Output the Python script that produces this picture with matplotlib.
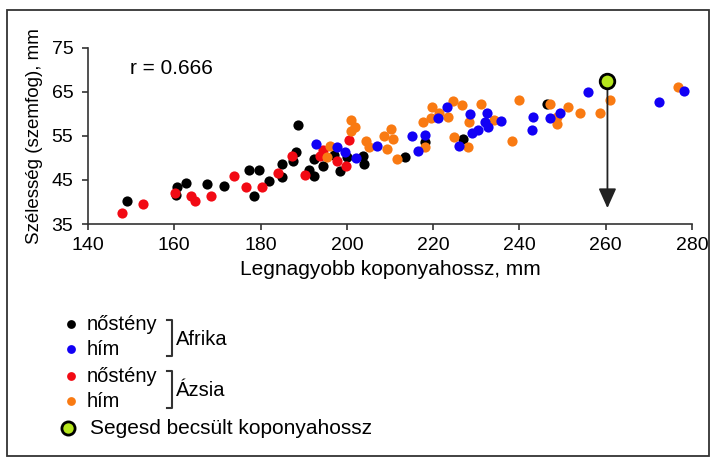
import matplotlib
matplotlib.use('Agg')
import matplotlib.pyplot as plt
from matplotlib.patches import Rectangle

plt.rcParams['font.family'] = ['Liberation Sans', 'DejaVu Sans']

# Afrika, nostény (black)
af_f_x = [149.1, 160.7, 160.4, 162.7, 167.5, 171.5, 177.4, 179.7, 178.5, 182.0,
          184.9, 184.9, 187.6, 188.2, 188.7, 191.3, 192.4, 192.4, 194.5, 197.0,
          198.3, 200.0, 203.8, 204.0, 213.5, 218.1, 226.9, 246.5]
af_f_y = [40.3, 43.3, 41.6, 44.2, 44.0, 43.7, 47.2, 47.2, 41.3, 44.8,
          48.6, 45.7, 49.4, 51.3, 57.5, 47.2, 45.9, 49.8, 48.2, 50.6,
          47.0, 50.3, 50.4, 48.6, 50.3, 53.6, 54.2, 62.3]
# Afrika, hím (blue)
af_m_x = [192.9, 197.7, 199.5, 202.1, 207.1, 215.0, 218.1, 216.4, 221.1, 223.3,
          228.5, 232.5, 232.0, 232.6, 235.7, 229.1, 230.5, 226.0, 243.2, 242.8,
          247.0, 249.3, 255.9, 272.4, 278.2]
af_m_y = [53.2, 52.5, 51.4, 49.9, 52.8, 55.0, 55.2, 51.6, 59.0, 61.5,
          60.0, 60.2, 58.2, 57.1, 58.3, 55.7, 56.3, 52.8, 59.2, 56.3,
          59.1, 60.1, 64.9, 62.7, 65.1]
# Ázsia, nostény (red)
as_f_x = [147.9, 152.7, 160.1, 163.9, 164.8, 168.5, 173.8, 176.6, 180.4, 184.0,
          187.2, 190.2, 193.8, 194.5, 197.8, 199.8, 200.5]
as_f_y = [37.4, 39.6, 42.1, 41.3, 40.3, 41.3, 46.0, 43.5, 43.5, 46.6,
          50.4, 46.2, 50.5, 51.8, 49.2, 48.2, 54.0]
# Ázsia, hím (orange)
as_m_x = [196.0, 195.5, 200.9, 201.9, 200.9, 204.4, 205.1, 208.5, 210.2, 210.6,
          209.4, 211.7, 218.2, 217.6, 219.8, 219.5, 221.4, 223.5, 224.5, 226.7,
          224.8, 228.2, 228.0, 231.0, 234.2, 238.2, 240.0, 247.0, 248.6, 248.7,
          251.2, 254.0, 258.6, 261.0, 276.8]
as_m_y = [52.8, 50.3, 58.7, 57.0, 56.0, 53.9, 52.5, 55.0, 56.5, 54.3,
          52.0, 49.7, 52.4, 58.1, 61.6, 59.0, 60.2, 59.2, 63.0, 62.1,
          54.7, 58.2, 52.4, 62.2, 58.5, 53.9, 63.1, 62.2, 57.8, 59.3,
          61.5, 60.1, 60.2, 63.1, 66.1]
# Segesd estimate
segesd_x = [260.4]
segesd_y = [67.5]
arrow_end_y = 38.6

x_ticks = [140, 160, 180, 200, 220, 240, 260, 280]
y_ticks = [35, 45, 55, 65, 75]

W, H = 713, 461
fig = plt.figure(figsize=(W / 100, H / 100), dpi=100)
ax = fig.add_axes([88 / W, 1 - 224 / H, (692 - 88) / W, (224 - 47.7) / H])

ms = 54
ax.scatter(af_f_x, af_f_y, s=ms, color='black', linewidths=0, zorder=3, clip_on=False)
ax.scatter(as_f_x, as_f_y, s=ms, color='#f20a14', linewidths=0, zorder=3, clip_on=False)
ax.scatter(as_m_x, as_m_y, s=ms, color='#f97a12', linewidths=0, zorder=3, clip_on=False)
ax.scatter(af_m_x, af_m_y, s=ms, color='#1200f5', linewidths=0, zorder=4, clip_on=False)

ax.annotate('', xy=(segesd_x[0], arrow_end_y), xytext=(segesd_x[0], segesd_y[0]),
            arrowprops=dict(arrowstyle='-|>,head_length=0.6,head_width=0.27', color='#222222',
                            lw=1.3, shrinkA=6, shrinkB=0, mutation_scale=20), zorder=5)
ax.scatter(segesd_x, segesd_y, s=110, color='#b5e61d', edgecolors='black', linewidths=2,
           zorder=6, clip_on=False)

ax.set_xlim(140, 280)
ax.set_ylim(35, 75)
ax.set_xticks(x_ticks)
ax.set_yticks(y_ticks)
for s in ['top', 'right']:
    ax.spines[s].set_visible(False)
for s in ['left', 'bottom']:
    ax.spines[s].set_color('#333333')
    ax.spines[s].set_linewidth(1.2)
ax.tick_params(direction='out', length=4.5, width=1.2, color='#333333', labelsize=14, pad=5)
ax.tick_params(axis='y', pad=6)
ax.set_xlabel('Legnagyobb koponyahossz, mm', fontsize=15, labelpad=4)
ax.set_ylabel('Szélesség (szemfog), mm', fontsize=13.5, labelpad=6)
ax.text(0.069, 0.88, 'r = 0.666', transform=ax.transAxes, fontsize=15, va='center', ha='left')

# overlay in pixel coordinates for legend and frame
ov = fig.add_axes([0, 0, 1, 1], zorder=-1)
ov.set_xlim(0, W)
ov.set_ylim(H, 0)
ov.axis('off')
ov.add_patch(Rectangle((7, 10), 702, 446, fill=False, edgecolor='#333333', lw=1.3))

legend_rows = [(324, 'black', 'nőstény'), (349, '#1200f5', 'hím'),
               (376, '#f20a14', 'nőstény'), (401, '#f97a12', 'hím')]
for yy, col, lab in legend_rows:
    ov.scatter([71], [yy], s=40, color=col, linewidths=0)
    ov.text(87, yy, lab, fontsize=14.5, va='center', ha='left')
ov.scatter([68], [428], s=90, color='#b5e61d', edgecolors='black', linewidths=2)
ov.text(90, 428, 'Segesd becsült koponyahossz', fontsize=15, va='center', ha='left')

for y0, y1, name in [(320, 356, 'Afrika'), (371, 408, 'Ázsia')]:
    ov.plot([167, 172, 172, 167], [y0, y0, y1, y1], color='#333333', lw=1.5)
    ov.text(176, (y0 + y1) / 2 + 1, name, fontsize=14.5, va='center', ha='left')

fig.savefig('out.png', dpi=100)
